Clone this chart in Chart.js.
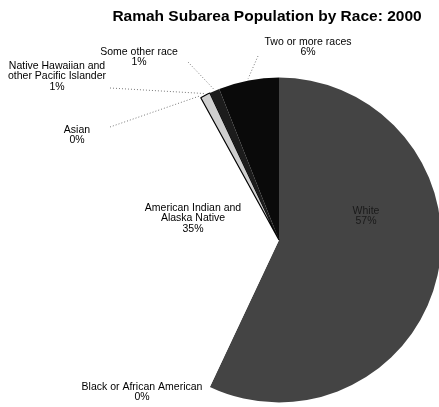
<!DOCTYPE html>
<html>
<head>
<meta charset="utf-8">
<script src="https://cdn.jsdelivr.net/npm/chart.js@4/dist/chart.umd.min.js"></script>
<style>
  html, body { margin: 0; padding: 0; background: #fff; overflow: hidden; }
  canvas { display: block; }
</style>
</head>
<body>
<canvas id="pie" width="445" height="407"></canvas>
<script>
// ---------------- data ----------------
const categories = [
  'White',
  'Black or African American',
  'American Indian and Alaska Native',
  'Asian',
  'Native Hawaiian and other Pacific Islander',
  'Some other race',
  'Two or more races'
];
const percents = [57, 0, 35, 0, 1, 1, 6];
const sliceColors = ['#444444', '#444444', '#ffffff', '#000000', '#cfcfcf', '#1c1c1c', '#0a0a0a'];
const sliceBorders = [0, 0, 0, 0, 1.2, 0, 0];

// label text, wrapped like the original
const labelLines = [
  ['White'],
  ['Black or African American'],
  ['American Indian and', 'Alaska Native'],
  ['Asian'],
  ['Native Hawaiian and', 'other Pacific Islander'],
  ['Some other race'],
  ['Two or more races']
];

// ---------------- layout (label placement, not data) ----------------
// x = centre of text, y = middle of first line, lead = where the dotted line starts
const labelPos = [
  { x: 366, y: 211, color: '#1a1a1a' },
  { x: 142, y: 387 },
  { x: 193, y: 208 },
  { x: 77, y: 130, lead: { x: 110, y: 127 } },
  { x: 57, y: 66, lead: { x: 110, y: 88 } },
  { x: 139, y: 52, lead: { x: 188, y: 62 } },
  { x: 308, y: 42, lead: { x: 258, y: 56 } }
];

const FONT = '"Liberation Sans", Arial, sans-serif';

const labelPlugin = {
  id: 'pieLabels',
  afterDatasetsDraw(chart) {
    const ctx = chart.ctx;
    const arcs = chart.getDatasetMeta(0).data;

    // dotted leader lines to the rim
    ctx.save();
    ctx.strokeStyle = '#777';
    ctx.lineWidth = 1;
    ctx.setLineDash([1, 2]);
    arcs.forEach((arc, i) => {
      const p = labelPos[i];
      if (!p.lead) return;
      const a = (arc.startAngle + arc.endAngle) / 2;
      const ex = arc.x + Math.cos(a) * (arc.outerRadius + 2);
      const ey = arc.y + Math.sin(a) * (arc.outerRadius + 2);
      ctx.beginPath();
      ctx.moveTo(p.lead.x, p.lead.y);
      ctx.lineTo(ex, ey);
      ctx.stroke();
    });
    ctx.restore();

    // labels
    ctx.save();
    ctx.font = '10.5px ' + FONT;
    ctx.textAlign = 'center';
    ctx.textBaseline = 'middle';
    percents.forEach((v, i) => {
      const p = labelPos[i];
      const lines = labelLines[i].concat([Math.round(v) + '%']);
      ctx.fillStyle = p.color || '#000';
      lines.forEach((t, k) => ctx.fillText(t, p.x, p.y + k * 10.5));
    });
    ctx.restore();

    // title
    ctx.save();
    ctx.font = 'bold 15.5px ' + FONT;
    ctx.fillStyle = '#000';
    ctx.textAlign = 'center';
    ctx.textBaseline = 'middle';
    ctx.fillText('Ramah Subarea Population by Race: 2000', 267, 17);
    ctx.restore();
  }
};

new Chart(document.getElementById('pie'), {
  type: 'pie',
  data: {
    labels: categories,
    datasets: [{
      data: percents,
      backgroundColor: sliceColors,
      borderColor: '#000',
      borderWidth: sliceBorders
    }]
  },
  options: {
    responsive: false,
    animation: false,
    layout: { padding: { left: 116, right: 3, top: 77, bottom: 4 } },
    plugins: {
      legend: { display: false },
      tooltip: { enabled: false },
      title: { display: false }
    }
  },
  plugins: [labelPlugin]
});
</script>
</body>
</html>
